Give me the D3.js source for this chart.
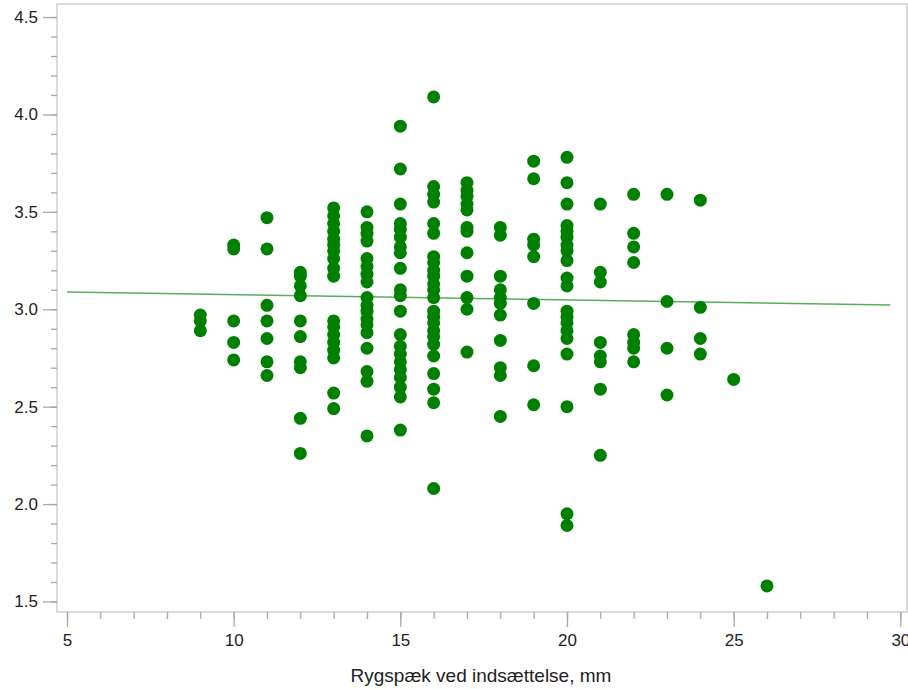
<!DOCTYPE html>
<html>
<head>
<meta charset="utf-8">
<script src="https://cdn.jsdelivr.net/npm/d3@7"></script>
<style>
  body { margin: 0; background: #fff; }
  svg { display: block; font-family: Arial, "Liberation Sans", sans-serif; }
</style>
</head>
<body>
<script>
// x position of each column of points (mm)
const xCols = [9, 10, 11, 12, 13, 14, 15, 16, 17, 18, 19, 20, 21, 22, 23, 24, 25, 26];

// y values
const yByCol = [
  [2.97, 2.94, 2.89],
  [3.33, 3.31, 2.94, 2.83, 2.74],
  [3.47, 3.31, 3.02, 2.94, 2.85, 2.73, 2.66],
  [3.19, 3.17, 3.12, 3.07, 2.94, 2.86, 2.73, 2.70, 2.44, 2.26],
  [3.52, 3.48, 3.44, 3.40, 3.36, 3.33, 3.30, 3.26, 3.21, 3.17, 2.94, 2.91, 2.87, 2.83, 2.79, 2.75, 2.57, 2.49],
  [3.50, 3.42, 3.39, 3.35, 3.26, 3.22, 3.18, 3.14, 3.06, 3.02, 2.99, 2.95, 2.92, 2.88, 2.80, 2.68, 2.63, 2.35],
  [3.94, 3.72, 3.54, 3.44, 3.41, 3.37, 3.32, 3.29, 3.21, 3.10, 3.07, 2.99, 2.87, 2.81, 2.77, 2.73, 2.69, 2.65, 2.60, 2.55, 2.38],
  [4.09, 3.63, 3.59, 3.55, 3.44, 3.39, 3.27, 3.24, 3.20, 3.17, 3.13, 3.10, 3.06, 2.99, 2.96, 2.93, 2.89, 2.86, 2.82, 2.76, 2.67, 2.59, 2.52, 2.08],
  [3.65, 3.61, 3.58, 3.54, 3.51, 3.42, 3.40, 3.29, 3.17, 3.06, 3.00, 2.78],
  [3.42, 3.38, 3.17, 3.10, 3.06, 3.03, 2.97, 2.84, 2.70, 2.66, 2.45],
  [3.76, 3.67, 3.36, 3.33, 3.27, 3.03, 2.71, 2.51],
  [3.78, 3.65, 3.54, 3.43, 3.40, 3.37, 3.33, 3.30, 3.25, 3.16, 3.12, 2.99, 2.96, 2.93, 2.89, 2.85, 2.77, 2.50, 1.95, 1.89],
  [3.54, 3.19, 3.14, 2.83, 2.76, 2.73, 2.59, 2.25],
  [3.59, 3.39, 3.32, 3.24, 2.87, 2.83, 2.80, 2.73],
  [3.59, 3.04, 2.80, 2.56],
  [3.56, 3.01, 2.85, 2.77],
  [2.64],
  [1.58]
];

// fitted line end points
const fitX = [5, 29.7];
const fitY = [3.088, 3.022];

const xTicks = [5, 10, 15, 20, 25, 30];
const yTicks = [1.5, 2.0, 2.5, 3.0, 3.5, 4.0, 4.5];
const xTitle = "Rygspæk ved indsættelse, mm";

const width = 908, height = 689;
const plot = {left: 57, top: 4, right: 907, bottom: 612};

const points = [];
xCols.forEach((x, i) => yByCol[i].forEach(y => points.push({x: x, y: y})));

const svg = d3.select("body").append("svg")
    .attr("width", width)
    .attr("height", height);

const xScale = d3.scaleLinear()
    .domain([4.7, 30.2])
    .range([plot.left, plot.right]);

const yScale = d3.scaleLinear()
    .domain([1.446, 4.567])
    .range([plot.bottom, plot.top]);

// frame
svg.append("rect")
    .attr("x", plot.left)
    .attr("y", plot.top)
    .attr("width", plot.right - plot.left)
    .attr("height", plot.bottom - plot.top)
    .attr("fill", "none")
    .attr("stroke", "#cfcfcf")
    .attr("stroke-width", 1.5);

// X axis: minor ticks every unit, labels every 5
const xMinor = d3.range(5, 31, 1);
svg.append("g")
    .attr("transform", "translate(0," + plot.bottom + ")")
    .call(d3.axisBottom(xScale).tickValues(xMinor).tickSize(7).tickFormat(""))
    .call(g => g.select(".domain").remove())
    .call(g => g.selectAll("line").attr("stroke", "#a8a8a8").attr("stroke-width", 1.3));

svg.append("g")
    .attr("transform", "translate(0," + plot.bottom + ")")
    .call(d3.axisBottom(xScale).tickValues(xTicks).tickSize(15).tickPadding(7).tickFormat(d3.format("d")))
    .call(g => g.select(".domain").remove())
    .call(g => g.selectAll("line").attr("stroke", "#a8a8a8").attr("stroke-width", 1.3))
    .call(g => g.selectAll("text").attr("fill", "#222").style("font-size", "17px"));

// Y axis: minor ticks every 0.1
const yMinor = d3.range(15, 46, 1).map(v => v / 10);
svg.append("g")
    .attr("transform", "translate(" + plot.left + ",0)")
    .call(d3.axisLeft(yScale).tickValues(yMinor).tickSize(6).tickFormat(""))
    .call(g => g.select(".domain").remove())
    .call(g => g.selectAll("line").attr("stroke", "#a8a8a8").attr("stroke-width", 1.3));

svg.append("g")
    .attr("transform", "translate(" + plot.left + ",0)")
    .call(d3.axisLeft(yScale).tickValues(yTicks).tickSize(14).tickPadding(5).tickFormat(d3.format(".1f")))
    .call(g => g.select(".domain").remove())
    .call(g => g.selectAll("line").attr("stroke", "#a8a8a8").attr("stroke-width", 1.3))
    .call(g => g.selectAll("text").attr("fill", "#222").style("font-size", "17px"));

// axis title
svg.append("text")
    .attr("x", 481)
    .attr("y", 682)
    .attr("text-anchor", "middle")
    .attr("fill", "#222")
    .style("font-size", "19px")
    .text(xTitle);

// fit line
svg.append("line")
    .attr("x1", xScale(fitX[0]))
    .attr("y1", yScale(fitY[0]))
    .attr("x2", xScale(fitX[1]))
    .attr("y2", yScale(fitY[1]))
    .attr("stroke", "#008000")
    .attr("stroke-opacity", 0.65)
    .attr("stroke-width", 1.5);

// dots
svg.append("g")
    .selectAll("circle")
    .data(points)
    .enter()
    .append("circle")
      .attr("cx", d => xScale(d.x))
      .attr("cy", d => yScale(d.y))
      .attr("r", 6.5)
      .attr("fill", "#008000");
</script>
</body>
</html>
